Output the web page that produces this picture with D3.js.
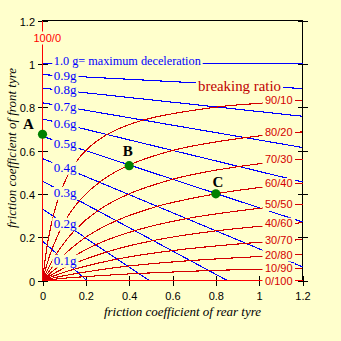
<!DOCTYPE html>
<html><head><meta charset="utf-8">
<script src="https://cdn.jsdelivr.net/npm/d3@7"></script>
<style>body{margin:0;background:#ffffcc}svg{display:block}</style>
</head><body><svg id="c" width="341" height="341"></svg>
<script>
// ---- data ----
const ticks = [0, 0.2, 0.4, 0.6, 0.8, 1.0, 1.2];
const tickLabels = ["0", "0.2", "0.4", "0.6", "0.8", "1", "1.2"];

// constant deceleration lines (blue): start on x=0, end point
const gLabels = ["0.1g","0.2g","0.3g","0.4g","0.5g","0.6g","0.7g","0.8g","0.9g","1.0 g= maximum deceleration"];
const gStartY = [0.182, 0.330, 0.459, 0.563, 0.665, 0.746, 0.820, 0.888, 0.950, 1.0];
const gEndX   = [0.205, 0.492, 0.853, 1.2, 1.2, 1.2, 1.2, 1.2, 1.2, 1.2];
const gEndY   = [0, 0, 0, 0.063, 0.270, 0.455, 0.614, 0.758, 0.886, 1.0];

// braking ratio curves (red): rear / front friction coefficient along each curve
const ratioLabels = ["90/10","80/20","70/30","60/40","50/50","40/60","30/70","20/80","10/90"];
const ratioRear = [
  [0,0.011,0.022,0.05,0.086,0.133,0.2,0.3,0.467,0.8,0.976,1.2],
  [0,0.021,0.044,0.1,0.171,0.267,0.4,0.6,0.743,0.933,1.029,1.2],
  [0,0.032,0.067,0.15,0.257,0.4,0.6,0.733,0.9,1.022,1.2],
  [0,0.042,0.089,0.2,0.343,0.533,0.655,0.8,0.978,1.2],
  [0,0.053,0.111,0.25,0.429,0.667,1.0,1.2],
  [0,0.063,0.133,0.3,0.514,0.8,1.2],
  [0,0.074,0.156,0.35,0.6,0.933,1.2],
  [0,0.084,0.178,0.4,0.686,1.067,1.2],
  [0,0.095,0.2,0.45,0.771,1.2]
];
const ratioFront = [
  [0,0.086,0.164,0.3,0.415,0.514,0.6,0.675,0.741,0.8,0.816,0.831],
  [0,0.076,0.145,0.267,0.369,0.457,0.533,0.6,0.630,0.659,0.670,0.686],
  [0,0.067,0.127,0.233,0.323,0.4,0.467,0.497,0.525,0.541,0.56],
  [0,0.057,0.109,0.2,0.277,0.343,0.372,0.4,0.426,0.45],
  [0,0.048,0.091,0.167,0.231,0.286,0.333,0.353],
  [0,0.038,0.073,0.133,0.185,0.229,0.267],
  [0,0.029,0.055,0.1,0.138,0.171,0.189],
  [0,0.019,0.036,0.067,0.092,0.114,0.12],
  [0,0.010,0.018,0.033,0.046,0.057]
];
const allFrontLabel = "100/0";
const allRearLabel = "0/100";

const pointNames = ["A","B","C"];
const pointRear  = [0, 0.4, 0.8];
const pointFront = [0.675, 0.53, 0.40];

// ---- styling ----
const BG = "#ffffcc", BLUE = "#0000ff", RED = "#d40000", RED2 = "#ff0000", GREEN = "#008000";
const SERIF = "'Liberation Serif','Times New Roman',serif";
const SANS = "'Liberation Sans',Arial,sans-serif";
const pointLabelOffset = [[-14,-5.5],[-1.3,-9.7],[2.2,-7.3]];

const svg = d3.select("#c");
svg.append("rect").attr("width",341).attr("height",341).attr("fill",BG);

const x = d3.scaleLinear().domain([0,1.2]).range([42.5,302.5]);
const y = d3.scaleLinear().domain([0,1.2]).range([280.5,20.5]);

// frame
svg.append("rect").attr("x",x(0)).attr("y",y(1.2))
  .attr("width",x(1.2)-x(0)).attr("height",y(0)-y(1.2))
  .attr("fill","none").attr("stroke","#000").attr("shape-rendering","crispEdges");

function styleAxis(g){
  g.select(".domain").remove();
  g.selectAll(".tick line").attr("stroke","#000").attr("shape-rendering","crispEdges");
  g.selectAll(".tick text").attr("font-family",SANS).attr("font-size",11).attr("fill","#000");
}
const left = svg.append("g").attr("transform",`translate(${x(0)},0)`)
  .call(d3.axisLeft(y).tickValues(ticks).tickFormat((d,i)=>tickLabels[i]).tickSize(5).tickPadding(2.5));
styleAxis(left);
left.selectAll(".tick line").attr("x1",5);
left.selectAll(".tick text").attr("dy","0.41em");

const bottom = svg.append("g").attr("transform",`translate(0,${y(0)})`)
  .call(d3.axisBottom(x).tickValues(ticks).tickFormat((d,i)=>tickLabels[i]).tickSize(5).tickPadding(6.7));
styleAxis(bottom);
bottom.selectAll(".tick line").attr("y1",-5);

const right = svg.append("g").attr("transform",`translate(${x(1.2)},0)`)
  .call(d3.axisRight(y).tickValues(ticks).tickFormat("").tickSize(5));
styleAxis(right);
right.selectAll(".tick line").attr("x1",-5);

// blue deceleration lines
gLabels.forEach((lab,i)=>{
  svg.append("line")
    .attr("x1",x(0)).attr("y1",y(gStartY[i]))
    .attr("x2",x(gEndX[i])).attr("y2",y(gEndY[i]))
    .attr("stroke",BLUE).attr("stroke-width",1.1).attr("shape-rendering","crispEdges");
});

// red ratio curves
const lineGen = d3.line().x(d=>x(d[0])).y(d=>y(d[1])).curve(d3.curveCatmullRom.alpha(0.5));
ratioLabels.forEach((lab,i)=>{
  const pts = ratioRear[i].map((r,j)=>[r, ratioFront[i][j]]);
  svg.append("path").attr("d",lineGen(pts)).attr("fill","none")
    .attr("stroke",RED).attr("stroke-width",1.1).attr("shape-rendering","crispEdges");
});
// 100/0 and 0/100
svg.append("line").attr("x1",x(0)).attr("x2",x(0)).attr("y1",y(0)).attr("y2",y(1.2))
  .attr("stroke",RED2).attr("shape-rendering","crispEdges");
svg.append("line").attr("x1",x(0)).attr("x2",x(1.2)).attr("y1",y(0)).attr("y2",y(0))
  .attr("stroke",RED2).attr("shape-rendering","crispEdges");

// label helper with background
function label(txt, px, py, opts){
  const g = svg.append("g");
  const t = g.append("text").attr("x",px).attr("y",py).text(txt)
    .attr("font-family",opts.font).attr("font-size",opts.size).attr("fill",opts.color)
    .attr("text-anchor",opts.anchor||"start");
  if(opts.len) t.attr("textLength",opts.len).attr("lengthAdjust","spacingAndGlyphs");
  if(opts.bg){
    const b = t.node().getBBox();
    g.insert("rect","text").attr("x",b.x-opts.padX).attr("y",py-opts.up)
      .attr("width",b.width+2*opts.padX).attr("height",opts.up+opts.down).attr("fill",BG);
  }
  return t;
}

// g labels
gLabels.forEach((lab,i)=>{
  const x0 = 0.052;
  const isMax = i === gLabels.length-1;
  const xc = isMax ? x0 : x0 + 0.05;
  const frac = xc / gEndX[i];
  const ly = gStartY[i] + (gEndY[i]-gStartY[i])*frac;
  label(lab, x(x0), y(ly) + (isMax ? 1.5 : 4), {font:SERIF,size:13,color:BLUE,bg:true,padX:1.5,up:10,down:3,
    len: isMax ? 147 : null});
});

// breaking ratio title on the 0.9g line
label("breaking ratio", 198, 91, {font:SERIF,size:15,color:"#c00000",bg:true,padX:2,up:12,down:4,len:83});

// ratio labels at right end
ratioLabels.forEach((lab,i)=>{
  const n = ratioFront[i].length;
  label(lab, 292.5, y(ratioFront[i][n-1]) + 4, {font:SANS,size:11,color:RED,anchor:"end",bg:true,padX:2.5,up:9,down:3});
});
label(allRearLabel, 292.5, y(0)+4, {font:SANS,size:11,color:RED,anchor:"end",bg:true,padX:2.5,up:9,down:3});
label(allFrontLabel, 33.5, 41.5, {font:SANS,size:11,color:RED2,bg:true,padX:1,up:10,down:3});

// points
pointNames.forEach((n,i)=>{
  svg.append("circle").attr("cx",x(pointRear[i])).attr("cy",y(pointFront[i])).attr("r",4.6).attr("fill",GREEN);
  svg.append("text").attr("x",x(pointRear[i])+pointLabelOffset[i][0]).attr("y",y(pointFront[i])+pointLabelOffset[i][1])
    .attr("text-anchor","middle").attr("font-family",SERIF).attr("font-weight","bold").attr("font-size",15).text(n);
});

// axis titles
svg.append("text").attr("x",182.5).attr("y",316).attr("text-anchor","middle")
  .attr("font-family",SERIF).attr("font-style","italic").attr("font-size",13)
  .text("friction coefficient of rear tyre");
svg.append("text").attr("transform","translate(16,148) rotate(-90)").attr("text-anchor","middle")
  .attr("font-family",SERIF).attr("font-style","italic").attr("font-size",13)
  .text("friction coefficient of front tyre");
</script></body></html>
